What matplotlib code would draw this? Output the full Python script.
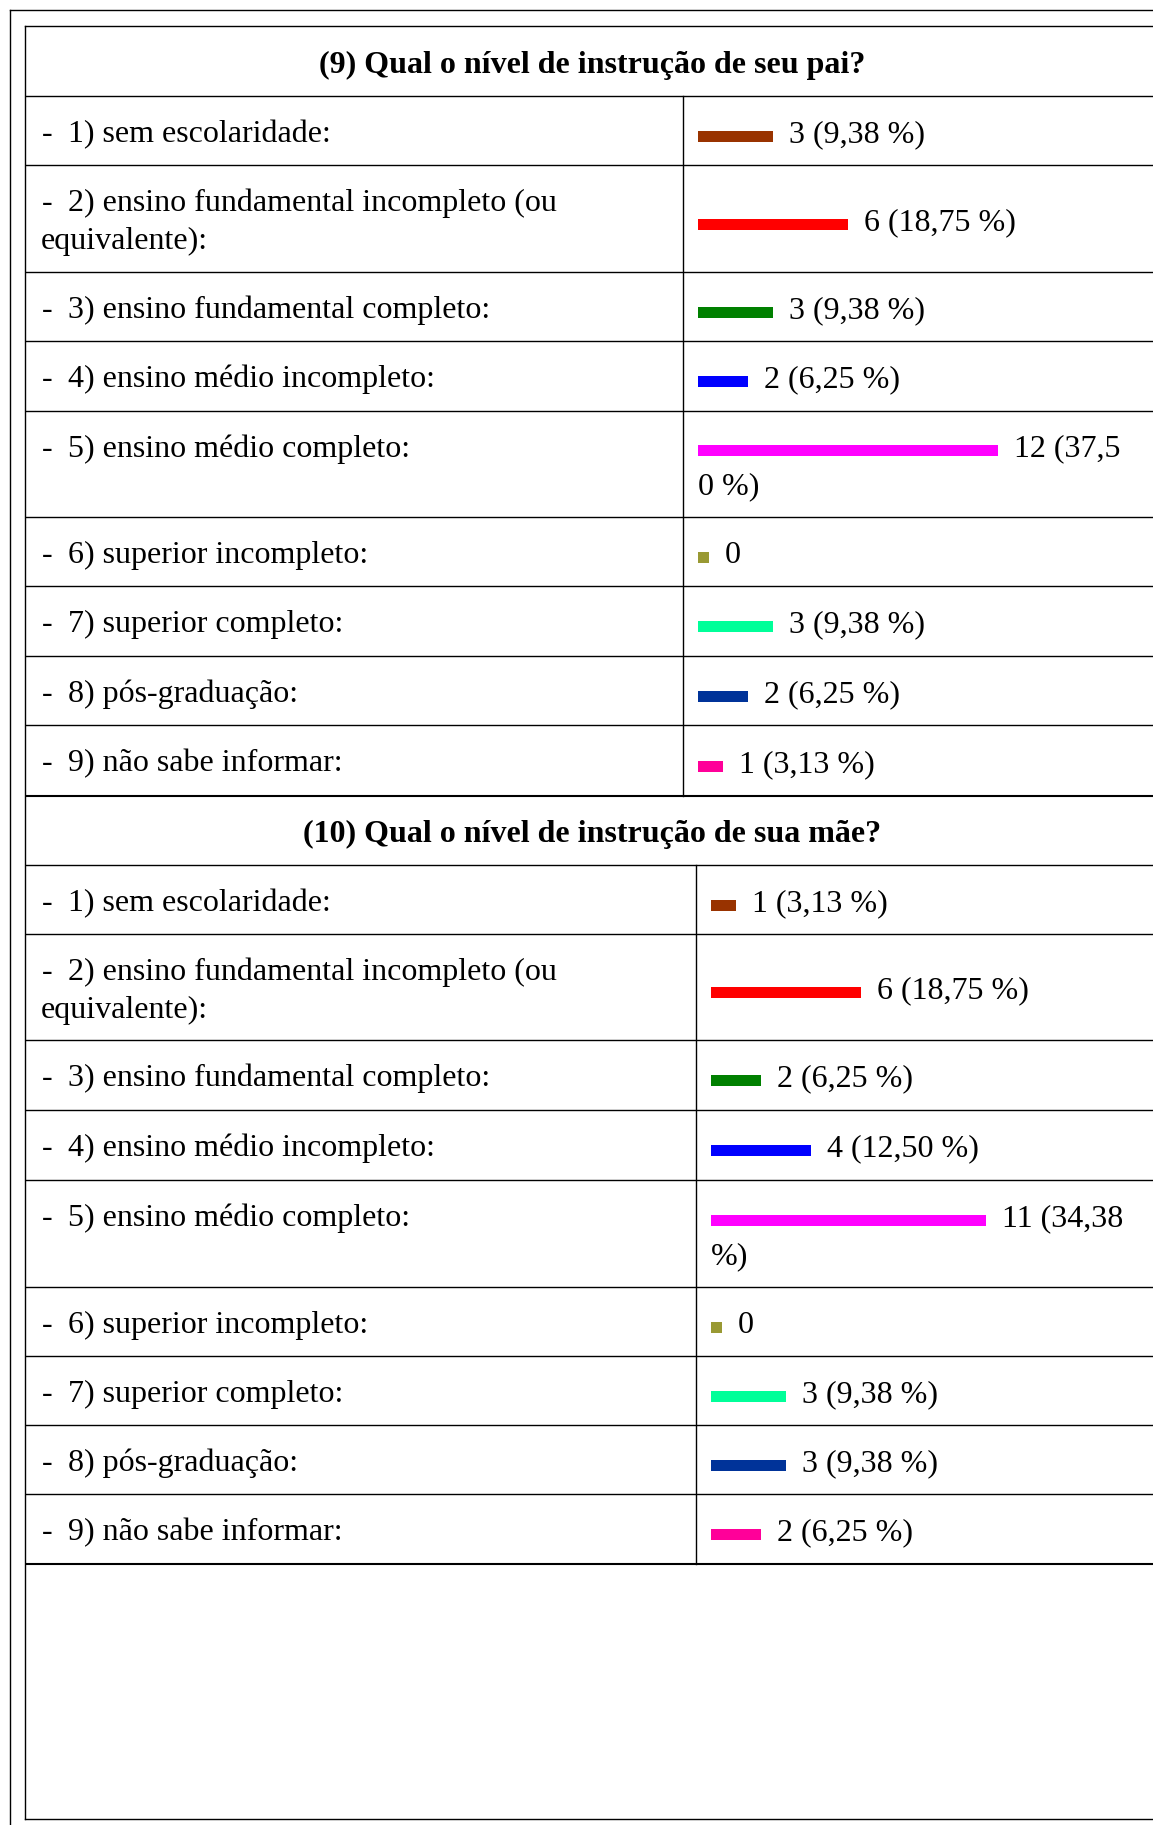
import matplotlib
matplotlib.use("Agg")
import matplotlib.pyplot as plt
import matplotlib.transforms as mtransforms
from matplotlib.font_manager import FontProperties

# ---------------- data ----------------
categories = [
    "1) sem escolaridade:",
    "2) ensino fundamental incompleto (ou equivalente):",
    "3) ensino fundamental completo:",
    "4) ensino médio incompleto:",
    "5) ensino médio completo:",
    "6) superior incompleto:",
    "7) superior completo:",
    "8) pós-graduação:",
    "9) não sabe informar:",
]
bar_colors = ["#993300", "#FF0000", "#008000", "#0000FF", "#FF00FF",
              "#999933", "#00FF99", "#003399", "#FF0099"]

title_pai = "(9) Qual o nível de instrução de seu pai?"
values_pai = [3, 6, 3, 2, 12, 0, 3, 2, 1]
pct_pai = ["9,38", "18,75", "9,38", "6,25", "37,50", "", "9,38", "6,25", "3,13"]

title_mae = "(10) Qual o nível de instrução de sua mãe?"
values_mae = [1, 6, 2, 4, 11, 0, 3, 3, 2]
pct_mae = ["3,13", "18,75", "6,25", "12,50", "34,38", "", "9,38", "9,38", "6,25"]

# ---------------- layout ----------------
W, H, DPI = 1153, 1825, 100
PX_PER_UNIT = 25.0
BAR_H = 11
ZERO_STUB = 11 / PX_PER_UNIT
LINE_SP = 38
TABLE_LEFT, TABLE_RIGHT = 25, 1159

fig = plt.figure(figsize=(W / DPI, H / DPI), dpi=DPI)
fig.patch.set_facecolor("white")
ax = fig.add_axes([0, 0, 1, 1])
ax.set_xlim(0, W)
ax.set_ylim(H, 0)
ax.axis("off")

renderer = fig.canvas.get_renderer()
fp = FontProperties(family="Liberation Serif", size=23)
fpb = FontProperties(family="Liberation Serif", size=23, weight="bold")


def twidth(s):
    return renderer.get_text_width_height_descent(s, fp, ismath=False)[0]


def wrap_words(s, first_x, next_x, limit):
    lines, cur, x0 = [], "", first_x
    for w in s.split(" "):
        cand = w if not cur else cur + " " + w
        if cur and x0 + twidth(cand) > limit:
            lines.append(cur)
            cur, x0 = w, next_x
        else:
            cur = cand
    lines.append(cur)
    return lines


def wrap_chars(s, first_x, next_x, limit):
    lines, cur, x0 = [], "", first_x
    for ch in s:
        cand = cur + ch
        if cur and x0 + twidth(cand) > limit:
            lines.append(cur.rstrip())
            cur, x0 = ch.lstrip(), next_x
        else:
            cur = cand
    lines.append(cur)
    return lines


LW = 1.0
TEXT_KW = dict(fontproperties=fp, color="black", va="baseline")


def draw_table(title, values, pcts, header_top, bounds, divider_x, thick_bottom):
    header_bot = bounds[0]
    # header
    ax.text((TABLE_LEFT + TABLE_RIGHT) / 2, (header_top + header_bot) / 2 + 11.5,
            title, fontproperties=fpb, ha="center", va="baseline")
    # horizontal lines
    for i, y in enumerate(bounds):
        lw = 1.5 if (thick_bottom and i == len(bounds) - 1) else LW
        ax.plot([TABLE_LEFT, W], [y, y], color="black", lw=lw, solid_capstyle="butt")
    # column divider
    ax.plot([divider_x, divider_x], [bounds[0], bounds[-1]], color="black", lw=LW)

    bar_x0 = divider_x + 15
    bx = fig.add_axes([bar_x0 / W, 0, (W - bar_x0) / W, 1])
    bx.set_xlim(0, (W - bar_x0) / PX_PER_UNIT)
    bx.set_ylim(H, 0)
    bx.axis("off")
    bx.patch.set_alpha(0)
    label_tr = mtransforms.offset_copy(bx.transData, fig=fig, x=16, y=0, units="dots")

    widths = [v if v > 0 else ZERO_STUB for v in values]
    bar_y = []
    for r, (cat, v, p, w) in enumerate(zip(categories, values, pcts, widths)):
        top, bot = bounds[r], bounds[r + 1]
        center = (top + bot) / 2
        # left label (top aligned)
        lines = wrap_words(cat, 68, 41, divider_x - 10)
        ax.text(42, top + 46, "-", **TEXT_KW)
        for k, ln in enumerate(lines):
            ax.text(68 if k == 0 else 41, top + 46 + k * LINE_SP, ln, **TEXT_KW)
        # right label (vertically centered)
        lab = f"{v} ({p} %)" if p else f"{v}"
        start_px = bar_x0 + w * PX_PER_UNIT + 16
        rlines = wrap_chars(lab, start_px, bar_x0, 1130)
        base0 = center + 11.5 - (LINE_SP / 2) * (len(rlines) - 1)
        bar_y.append(base0 - 6)
        for k, ln in enumerate(rlines):
            if k == 0:
                bx.text(w, base0, ln, transform=label_tr, **TEXT_KW)
            else:
                bx.text(0, base0 + k * LINE_SP, ln, **TEXT_KW)
    bx.barh(bar_y, widths, height=BAR_H, left=0, color=bar_colors, linewidth=0)


# outer frame
ax.plot([10, W], [10, 10], color="black", lw=LW)
ax.plot([10, 10], [10, H], color="black", lw=LW)
# inner table frame
ax.plot([TABLE_LEFT, W], [26, 26], color="black", lw=LW)
ax.plot([TABLE_LEFT, TABLE_LEFT], [26, 1819], color="black", lw=LW)
ax.plot([TABLE_LEFT, W], [1819, 1819], color="black", lw=LW)

draw_table(title_pai, values_pai, pct_pai, 26,
           [96, 165, 272, 341, 411, 517, 586, 656, 725, 796], 683, True)
draw_table(title_mae, values_mae, pct_mae, 796,
           [865, 934, 1040, 1110, 1180, 1287, 1356, 1425, 1494, 1564], 696, True)

fig.savefig("out.png", dpi=DPI, facecolor="white")
